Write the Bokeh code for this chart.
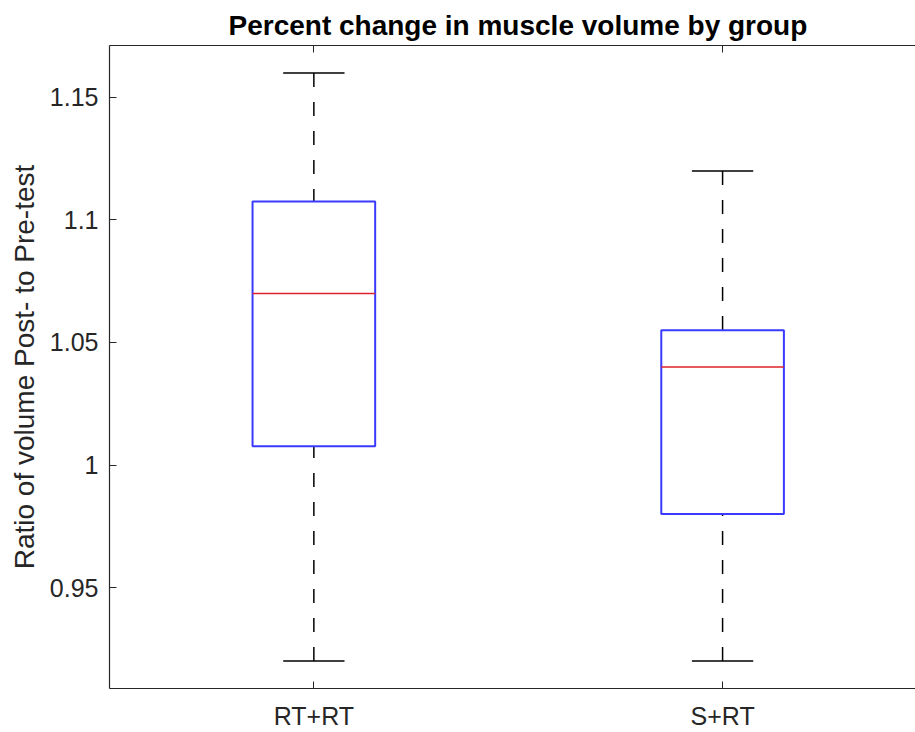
from bokeh.plotting import figure
from bokeh.models import Range1d, FixedTicker, LinearAxis
from bokeh.embed import file_html
from bokeh.resources import INLINE

# ---- data ----
groups = ["RT+RT", "S+RT"]
lower_whisker = [0.92, 0.92]
q1 = [1.0077, 0.980]
median = [1.070, 1.040]
q3 = [1.1075, 1.055]
upper_whisker = [1.160, 1.120]
y_ticks = [0.95, 1.0, 1.05, 1.1, 1.15]
y_tick_labels = ["0.95", "1", "1.05", "1.1", "1.15"]

pos = [i + 1 for i in range(len(groups))]
box_half = 0.15
cap_half = 0.075

FONT = "Liberation Sans"
AX = "#262626"

p = figure(width=915, height=732, output_backend="svg", toolbar_location=None,
           x_range=Range1d(0.5, 2.472), y_range=Range1d(0.9088, 1.1712),
           min_border_left=109, min_border_right=0, min_border_top=45,
           min_border_bottom=30, x_axis_location=None, y_axis_location=None,
           title="Percent change in muscle volume by group")
p.grid.visible = False
p.outline_line_color = None
p.background_fill_color = "white"
p.border_fill_color = "white"

p.title.text_font = FONT
p.title.text_font_size = "28px"
p.title.text_font_style = "bold"
p.title.text_color = "black"
p.title.align = "left"
p.title.offset = 119

# axes
xa = LinearAxis(ticker=FixedTicker(ticks=pos),
                major_label_overrides={pv: g for pv, g in zip(pos, groups)})
ya = LinearAxis(ticker=FixedTicker(ticks=y_ticks),
                major_label_overrides={t: l for t, l in zip(y_ticks, y_tick_labels)},
                axis_label="Ratio of volume Post- to Pre-test")
ta = LinearAxis(ticker=FixedTicker(ticks=pos),
                major_label_overrides={pv: "" for pv in pos})
for ax in (xa, ya, ta):
    ax.axis_line_color = AX
    ax.axis_line_width = 1.2
    ax.major_tick_line_color = AX
    ax.major_tick_in = 7
    ax.major_tick_out = 0
    ax.minor_tick_line_color = None
    ax.major_label_text_font = FONT
    ax.major_label_text_font_size = "25px"
    ax.major_label_text_color = AX
    ax.axis_label_text_font = FONT
    ax.axis_label_text_font_size = "28px"
    ax.axis_label_text_font_style = "normal"
    ax.axis_label_text_color = AX
xa.major_label_standoff = 13
ya.major_label_standoff = 11
ya.axis_label_standoff = 7
ta.major_label_text_font_size = "0px"
ta.major_label_standoff = 0

p.add_layout(xa, "below")
p.add_layout(ya, "left")
p.add_layout(ta, "above")

# whiskers (dashed, drawn from cap toward box)
p.segment(x0=pos, y0=upper_whisker, x1=pos, y1=q3, line_color="black",
          line_width=1.5, line_dash="14 15")
p.segment(x0=pos, y0=lower_whisker, x1=pos, y1=q1, line_color="black",
          line_width=1.5, line_dash="14 15")
# caps
p.segment(x0=[x - cap_half for x in pos], y0=upper_whisker,
          x1=[x + cap_half for x in pos], y1=upper_whisker,
          line_color="black", line_width=1.5)
p.segment(x0=[x - cap_half for x in pos], y0=lower_whisker,
          x1=[x + cap_half for x in pos], y1=lower_whisker,
          line_color="black", line_width=1.5)
# boxes
p.quad(left=[x - box_half for x in pos], right=[x + box_half for x in pos],
       top=q3, bottom=q1, fill_color=None, line_color="#3a3aff", line_width=2)
# medians
p.segment(x0=[x - box_half for x in pos], y0=median,
          x1=[x + box_half for x in pos], y1=median,
          line_color="#e0202a", line_width=1.5)

open("out.html", "w").write(file_html(p, INLINE))
